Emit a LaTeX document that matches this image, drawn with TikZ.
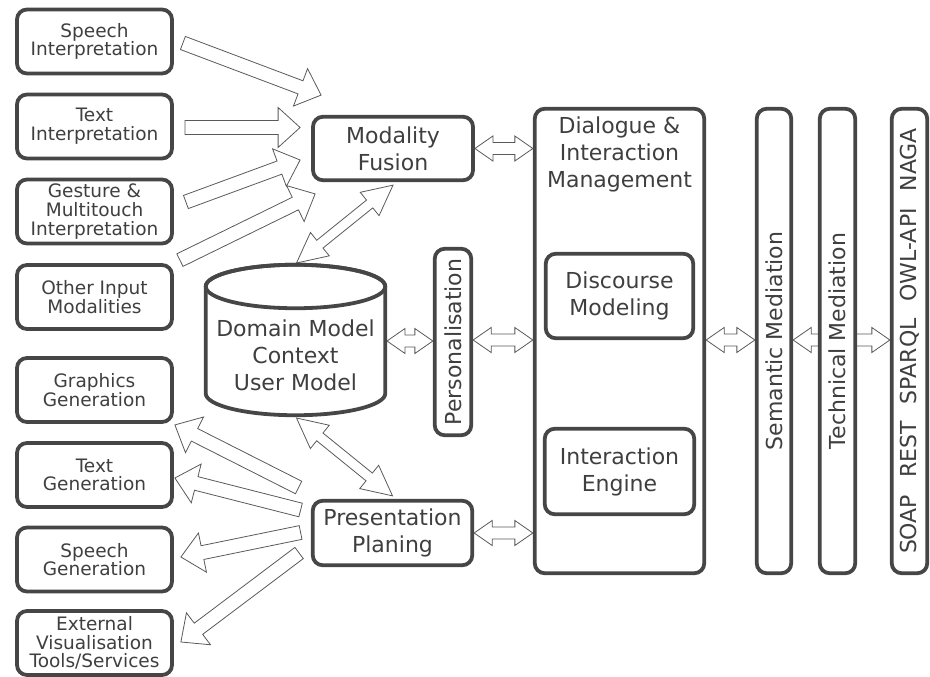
\documentclass[tikz,border=0pt]{standalone}
\usepackage{fontspec}
\setmainfont{DejaVu Sans}
\usetikzlibrary{
    calc,
    backgrounds
}

\definecolor{boxgray}{HTML}{464646}
\definecolor{textgray}{HTML}{3F3F3F}
\definecolor{arrowgray}{HTML}{5A5A5A}

% hollow block arrow: tail, tip, half shaft, half head, head length
\newcommand{\fatarrow}[5]{%
    \path (#1) coordinate (fa-t) (#2) coordinate (fa-h);
    \path ($(fa-h)!#5!(fa-t)$) coordinate (fa-b);
    \draw[arrowline] ($(fa-t)!#3!90:(fa-h)$) -- ($(fa-b)!#3!90:(fa-h)$)
        -- ($(fa-b)!#4!90:(fa-h)$) -- (fa-h) -- ($(fa-b)!#4!-90:(fa-h)$)
        -- ($(fa-b)!#3!-90:(fa-h)$) -- ($(fa-t)!#3!-90:(fa-h)$) -- cycle;
}
% same with a head at both ends
\newcommand{\fatdarrow}[5]{%
    \path (#1) coordinate (fa-t) (#2) coordinate (fa-h);
    \path ($(fa-h)!#5!(fa-t)$) coordinate (fa-b) ($(fa-t)!#5!(fa-h)$) coordinate (fa-c);
    \draw[arrowline] (fa-t) -- ($(fa-c)!#4!90:(fa-h)$) -- ($(fa-c)!#3!90:(fa-h)$)
        -- ($(fa-b)!#3!90:(fa-h)$) -- ($(fa-b)!#4!90:(fa-h)$) -- (fa-h)
        -- ($(fa-b)!#4!-90:(fa-h)$) -- ($(fa-b)!#3!-90:(fa-h)$)
        -- ($(fa-c)!#3!-90:(fa-h)$) -- ($(fa-c)!#4!-90:(fa-h)$) -- cycle;
}

\begin{document}
\begin{tikzpicture} [
    x=1pt, y=-1pt,
    box/.style = {draw=boxgray, line width=3.8pt, rounded corners=10pt, fill=white,
        text=textgray, align=center, inner sep=0pt},
    small/.style = {box, minimum width=155pt, minimum height=64pt,
        font=\fontsize{18.5}{18.7}\selectfont},
    big/.style = {box, font=\fontsize{22}{27}\selectfont},
    txt/.style = {text=textgray, align=center, inner sep=0pt, font=\fontsize{22}{27}\selectfont},
    arrowline/.style = {draw=arrowgray, line width=0.8pt, fill=white}
]
    \useasboundingbox (0,0) rectangle (930,677);

    % input side
    \node[small] (si) at (94.5,41.5) {Speech\\Interpretation};
    \node[small] (ti) at (94.5,126.5) {Text\\Interpretation};
    \node[small] (gi) at (94.5,211.5) {Gesture \&\\Multitouch\\Interpretation};
    \node[small] (oi) at (94.5,297) {Other Input\\Modalities};

    % output side
    \node[small] (gg) at (94.5,390) {Graphics\\Generation};
    \node[small] (tg) at (94.5,475) {Text\\Generation};
    \node[small] (sg) at (94.5,559.5) {Speech\\Generation};
    \node[small] (ev) at (94.5,643) {External\\Visualisation\\Tools/Services};

    \node[big, minimum width=160pt, minimum height=63.5pt] (mf) at (393,148.5) {Modality\\Fusion};
    \node[big, minimum width=159.5pt, minimum height=64.5pt] (pp) at (392.5,533) {Presentation\\Planing};

    % knowledge store
    \draw[boxgray, line width=3.8pt, fill=white] (205.75,286.5) -- (205.75,393.5)
        arc[start angle=180, end angle=360, x radius=89.75pt, y radius=21.75pt]
        -- (385.25,286.5)
        arc[start angle=0, end angle=180, x radius=89.75pt, y radius=21.75pt] -- cycle;
    \draw[boxgray, line width=3.8pt] (295.5,286.5) ellipse [x radius=89.75pt, y radius=21.75pt];
    \node[txt] (db) at (295.5,355) {Domain Model\\Context\\User Model};
    \coordinate (dbtop) at (296.5,263);
    \coordinate (dbbot) at (296.5,418);
    \coordinate (dbright) at (387,341);

    \node[big, minimum width=36.5pt, minimum height=186.5pt] (pers) at (453,342)
        {\rotatebox{90}{Personalisation}};

    % dialogue manager
    \node[box, minimum width=169.5pt, minimum height=464.5pt] (dim) at (619.5,341) {};
    \node[txt, anchor=north] (dimtext) at ([yshift=-10pt]dim.north)
        {Dialogue \&\\Interaction\\Management};
    \node[big, minimum width=147.5pt, minimum height=84.5pt] (dm) at (619.5,296) {Discourse\\Modeling};
    \node[big, minimum width=149.5pt, minimum height=85.5pt] (ie) at (619.5,471.5) {Interaction\\Engine};

    % mediation
    \node[big, minimum width=34.5pt, minimum height=464.5pt] (sem) at (774,341)
        {\rotatebox{90}{Semantic Mediation}};
    \node[big, minimum width=35.5pt, minimum height=464.5pt] (tech) at (837.5,341)
        {\rotatebox{90}{Technical Mediation}};
    \node[big, minimum width=35.5pt, minimum height=464.5pt] (soap) at (909.5,341)
        {\rotatebox{90}{SOAP\hspace{17pt}REST\hspace{17pt}SPARQL\hspace{17pt}OWL-API\hspace{17pt}NAGA}};

    \begin{pgfonlayer}{background}
        % into fusion
        \fatarrow{[shift={(9,1.5)}]si.east}{[shift={(10,-19.75)}]mf.north west}{7pt}{20pt}{22pt}
        \fatarrow{[shift={(11,1)}]ti.east}{[shift={(-11,-21)}]mf.west}{7pt}{20pt}{22pt}
        \fatarrow{[shift={(12,-9.5)}]gi.east}{[shift={(-11,11.5)}]mf.west}{7pt}{20pt}{22pt}
        \fatarrow{[shift={(6,-3)}]oi.north east}{[shift={(4,11.75)}]mf.south west}{7pt}{20pt}{22pt}

        % out of planning
        \fatarrow{[shift={(-12.25,-45.5)}]pp.west}{[shift={(1,1)}]gg.south east}{7pt}{20pt}{22pt}
        \fatarrow{[shift={(-10.25,-23)}]pp.west}{[shift={(1,3)}]tg.east}{7pt}{20pt}{22pt}
        \fatarrow{[shift={(-10.25,-0.5)}]pp.west}{[shift={(7,-2.5)}]sg.east}{7pt}{20pt}{22pt}
        \fatarrow{[shift={(-11.75,20)}]pp.west}{[shift={(7,-1)}]ev.east}{7pt}{20pt}{22pt}

        % store links
        \fatdarrow{dbtop}{[shift={(0,3)}]mf.south}{5pt}{15pt}{30pt}
        \fatdarrow{dbbot}{[shift={(0,-3)}]pp.north}{5pt}{15pt}{30pt}

        % small two-way links
        \fatdarrow{dbright}{dbright -| pers.west}{6pt}{12.5pt}{18pt}
        \fatdarrow{[yshift=2pt]pers.east}{[yshift=2pt]pers.east -| dim.west}{6pt}{12.5pt}{18pt}
        \fatdarrow{mf.east}{mf.east -| dim.west}{6pt}{12.5pt}{18pt}
        \fatdarrow{pp.east}{pp.east -| dim.west}{6pt}{12.5pt}{18pt}
        \fatdarrow{[yshift=1pt]dim.east}{[yshift=1pt]sem.west}{6pt}{12.5pt}{18pt}
        \fatdarrow{[yshift=1pt]sem.east}{[yshift=1pt]soap.west}{6pt}{12.5pt}{18pt}
    \end{pgfonlayer}
\end{tikzpicture}
\end{document}
